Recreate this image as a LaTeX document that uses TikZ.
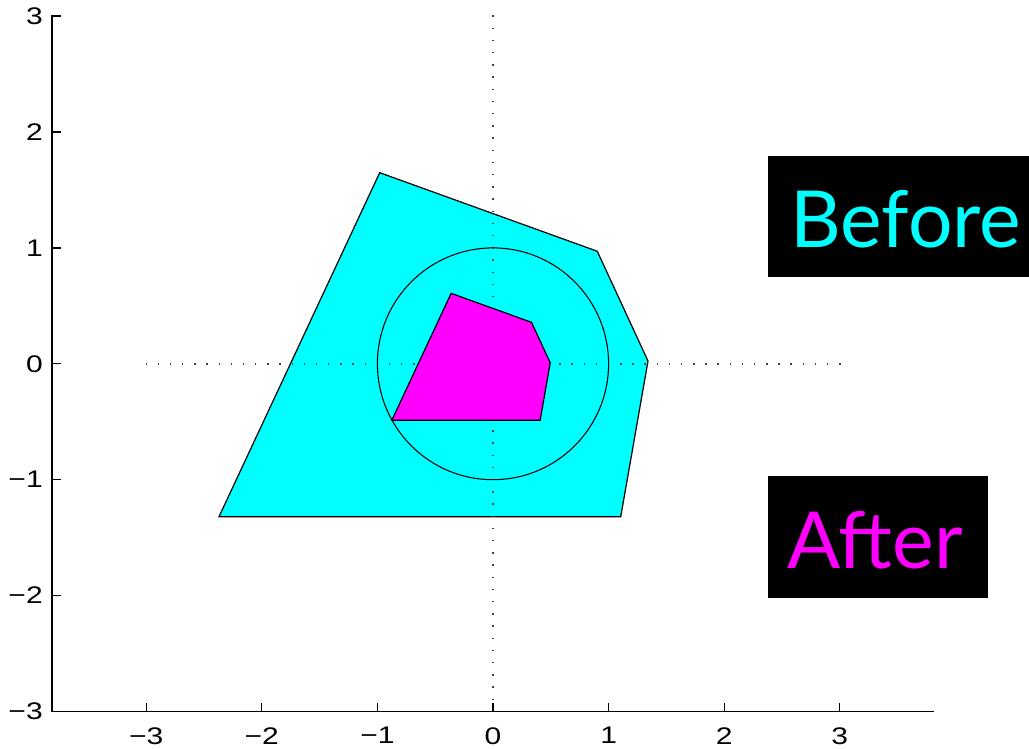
\documentclass[tikz,border=0pt]{standalone}
\usepackage{fontspec}
\setmainfont{Liberation Sans}
\newfontfamily\labelfont{Lato}
\definecolor{cyanfill}{RGB}{0,255,255}
\definecolor{magfill}{RGB}{255,0,255}
\begin{document}
\begin{tikzpicture}[x=86.7pt,y=86.925pt,
  axisline/.style={line width=1pt, line cap=rect},
  tickmark/.style={line width=1pt},
  ticklabel/.style={font=\fontsize{18}{18}\selectfont, inner sep=0pt},
  hgrid/.style={black!75, line width=1.1pt, dash pattern=on 1.1pt off 8.026pt},
  vgrid/.style={black!75, line width=1.1pt, dash pattern=on 1.1pt off 8.05pt},
  patchedge/.style={line width=0.9pt, line join=miter},
  labelbox/.style={fill=black, draw=none},
  bigtext/.style={font=\labelfont\fontsize{59}{59}\selectfont, inner sep=0pt, anchor=base west}]
\useasboundingbox (-4.2647,-3.3235) rectangle (4.6367,3.1389);
% polygon vertices
\coordinate (c1) at (-0.980,1.649);
\coordinate (c2) at (0.902,0.971);
\coordinate (c3) at (1.341,0.024);
\coordinate (c4) at (1.105,-1.319);
\coordinate (c5) at (-2.370,-1.319);
\coordinate (m1) at (-0.362,0.608);
\coordinate (m2) at (0.333,0.358);
\coordinate (m3) at (0.495,0.009);
\coordinate (m4) at (0.408,-0.487);
\coordinate (m5) at (-0.875,-0.487);
\coordinate (o) at (0,0);
% cyan patch
\filldraw[patchedge, fill=cyanfill] (c1) -- (c2) -- (c3) -- (c4) -- (c5) -- cycle;
% dotted axes
\coordinate (hl) at (-3.006,0);
\coordinate (hr) at (3.01,0);
\coordinate (vt) at (0,3.006);
\coordinate (vb) at (0,-3.01);
\draw[hgrid] (hl) -- (hr);
\draw[vgrid] (vt) -- (vb);
% unit circle
\draw[line width=0.8pt] (o) circle [radius=1];
% magenta patch
\filldraw[patchedge, fill=magfill] (m1) -- (m2) -- (m3) -- (m4) -- (m5) -- cycle;
% axes
\coordinate (ytop) at (-3.815,3);
\coordinate (corner) at (-3.815,-3);
\coordinate (xend) at (3.812,-3);
\draw[axisline] (ytop) -- (corner) -- (xend);
\foreach \k/\t in {-3/−3,-2/−2,-1/−1,0/0,1/1,2/2,3/3}{
  \draw[tickmark] (-3.815,\k) -- (-3.737,\k);
  \node[ticklabel, anchor=east] (yl\k) at (-3.893,\k) {\scalebox{1.25}[1]{\t}};
  \draw[tickmark] (\k,-3) -- (\k,-2.925);
  \node[ticklabel, anchor=north] (xl\k) at (\k,-3.134) {\scalebox{1.25}[1]{\t}};
}
% label boxes
\fill[labelbox] (2.379,0.749) rectangle (4.6367,1.793);
\node[bigtext, text=cyanfill] (before) at (2.57,1.005) {Before};
\fill[labelbox] (2.379,-2.018) rectangle (4.279,-0.9655);
\node[bigtext, text=magfill] (after) at (2.545,-1.762) {After};
\end{tikzpicture}
\end{document}
